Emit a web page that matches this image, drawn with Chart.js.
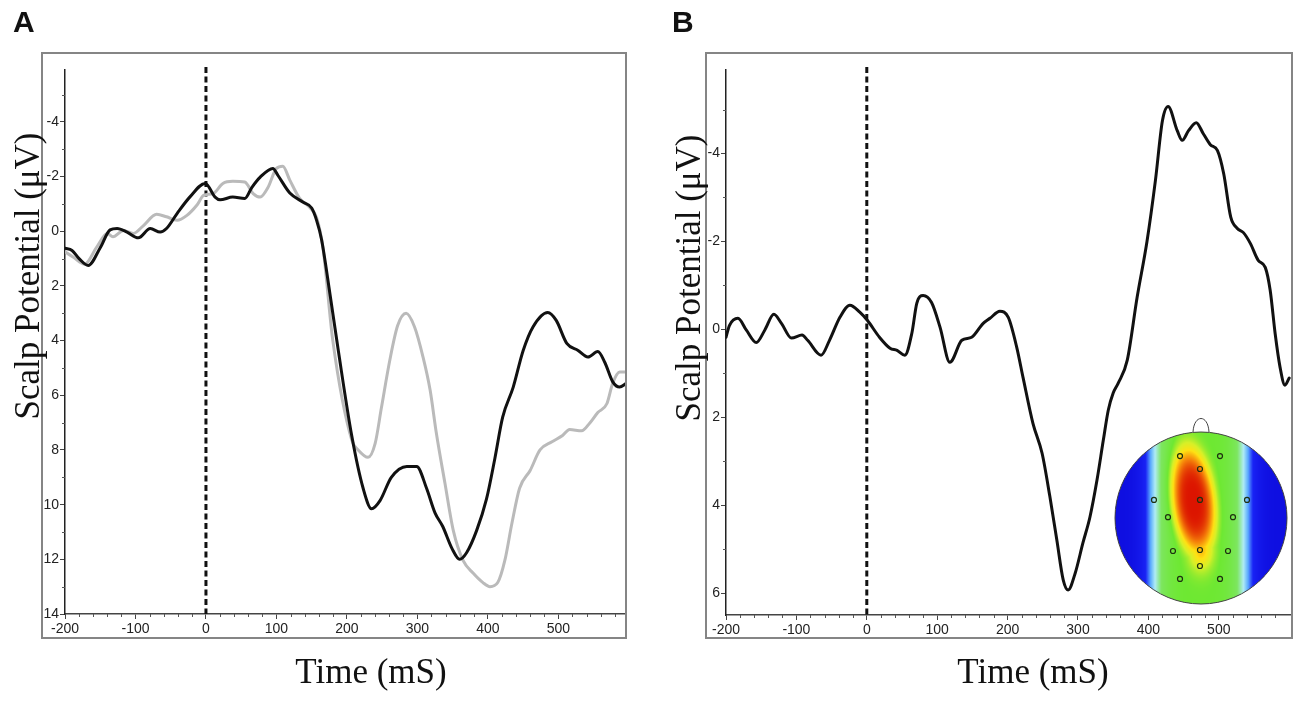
<!DOCTYPE html>
<html lang="en">
<head>
<meta charset="UTF-8">
<title>Scalp Potential</title>
<script src="https://cdn.jsdelivr.net/npm/chart.js"></script>
<style>
  body {
    margin: 0;
    background: #fff;
    width: 1300px;
    height: 704px;
    position: relative;
    overflow: hidden;
    font-family: "Liberation Sans", Arial, sans-serif;
  }
  .panel { position: absolute; top: 0; width: 650px; height: 704px; }
  .letter { position: absolute; top: 7px; font-weight: bold; font-size: 30px; line-height: 30px; color: #111; }
  .xtitle, .ytitle {
    position: absolute;
    font-family: "Liberation Serif", "Times New Roman", serif;
    font-size: 35px;
    line-height: 35px;
    color: #111;
    white-space: nowrap;
  }
  .xtitle { top: 654px; transform: translateX(-50%); }
  .ytitle { transform: translate(-50%, -50%) rotate(-90deg); }
</style>
</head>
<body>
  <div class="panel" style="left:0"><canvas id="chartA"></canvas></div>
  <div class="panel" style="left:650px"><canvas id="chartB"></canvas></div>

  <div class="letter" style="left:13px">A</div>
  <div class="letter" style="left:672px">B</div>
  <div class="ytitle" style="left:27px; top:276px">Scalp Potential (μV)</div>
  <div class="ytitle" style="left:688px; top:278px">Scalp Potential (μV)</div>
  <div class="xtitle" style="left:371px">Time (mS)</div>
  <div class="xtitle" style="left:1033px">Time (mS)</div>

<script>
// tick labels
const timeTicks = [-200, -100, 0, 100, 200, 300, 400, 500];
const uvTicksA = [-4, -2, 0, 2, 4, 6, 8, 10, 12, 14];
const uvTicksB = [-4, -2, 0, 2, 4, 6];

// Panel A: two conditions (black and grey waveforms), time in ms, potential in µV
const aBlackTime = [-200, -190, -180, -167, -150, -136, -126, -112, -96, -79, -65, -56, -41, -23, -1,
  13, 20, 38, 55, 65, 77, 95, 102, 119, 138, 150, 157, 164, 176, 188, 207, 223, 235, 247, 263,
  285, 299, 313, 325, 336, 349, 360, 370, 384, 398, 410, 421, 436, 450, 464, 485, 497, 512,
  528, 542, 556, 566, 577, 587, 596];
const aBlackUv = [0.62, 0.7, 1.0, 1.25, 0.6, -0.05, -0.1, 0.03, 0.24, -0.1, 0.03, -0.1, -0.65, -1.25, -1.75,
  -1.25, -1.15, -1.25, -1.2, -1.6, -1.98, -2.3, -2.05, -1.4, -1.06, -0.85, -0.4, 0.3, 2.3, 4.4, 7.5, 9.4, 10.15, 9.85, 9.0,
  8.6, 8.6, 9.4, 10.3, 10.8, 11.6, 12.0, 11.75, 10.95, 9.8, 8.3, 6.8, 5.7, 4.37, 3.5, 2.97, 3.26, 4.1,
  4.36, 4.6, 4.4, 4.8, 5.5, 5.7, 5.57];

const aGreyTime = [-200, -188, -172, -155, -140, -132, -117, -103, -89, -70, -56, -41, -27, -13, -3,
  10, 24, 38, 55, 67, 77, 88, 100, 109, 119, 133, 147, 157, 166, 180, 207, 216, 230, 240, 249,
  261, 272, 284, 296, 308, 318, 327, 339, 351, 365, 379, 393, 403, 414, 424, 434, 445, 460,
  474, 491, 506, 516, 533, 545, 556, 569, 577, 587, 596];
const aGreyUv = [0.75, 0.95, 1.2, 0.58, 0.08, 0.2, -0.03, 0.08, -0.2, -0.62, -0.53, -0.4, -0.58, -0.95, -1.32,
  -1.38, -1.75, -1.83, -1.8, -1.38, -1.25, -1.6, -2.3, -2.38, -1.87, -1.2, -0.88, -0.5, 0.6, 4.0, 7.65, 8.0, 8.27, 7.77, 6.45,
  4.7, 3.45, 3.0, 3.5, 4.6, 5.8, 7.4, 9.2, 10.95, 12.05, 12.5, 12.85, 13.0, 12.85, 12.05, 10.7, 9.4, 8.75,
  8.0, 7.7, 7.47, 7.25, 7.3, 7.0, 6.63, 6.3, 5.57, 5.15, 5.15];

// Panel B: difference waveform
const bTime = [-200, -195, -183, -171, -157, -145, -132, -121, -107, -92, -84, -65, -53, -38, -24, -10, 1,
  18, 33, 43, 54, 64, 71, 80, 92, 104, 118, 135, 149, 165, 175, 189, 201, 213, 222, 236, 249,
  260, 270, 279, 286, 296, 307, 317, 327, 336, 343, 350, 357, 370, 384, 398, 410, 420, 428,
  441, 448, 457, 468, 478, 488, 498, 507, 517, 526, 535, 545, 556, 566, 573, 580, 587, 594, 600];
const bUv = [0.18, -0.09, -0.25, 0.02, 0.3, 0.02, -0.34, -0.13, 0.2, 0.13, 0.25, 0.59, 0.25, -0.28, -0.55, -0.39, -0.2,
  0.18, 0.43, 0.48, 0.59, 0.09, -0.59, -0.77, -0.61, -0.05, 0.75, 0.25, 0.18, -0.13, -0.25, -0.41, -0.27, 0.41, 1.1, 2.14, 2.82,
  3.8, 4.8, 5.7, 5.93, 5.55, 4.86, 4.27, 3.43, 2.52, 1.84, 1.45, 1.23, 0.7, -0.73, -2.0, -3.39, -4.75, -5.07,
  -4.52, -4.3, -4.52, -4.7, -4.45, -4.2, -4.07, -3.54, -2.55, -2.3, -2.2, -1.95, -1.57, -1.41, -0.89, 0.09, 0.86, 1.27, 1.11];

const toPoints = (xs, ys) => xs.map((x, i) => ({ x: x, y: ys[i] }));

// grey box around each panel
const framePlugin = {
  id: 'frame',
  afterDraw(chart, args, opts) {
    const ctx = chart.ctx;
    ctx.save();
    ctx.strokeStyle = '#858585';
    ctx.lineWidth = 2;
    ctx.strokeRect(opts.left, opts.top, opts.right - opts.left, opts.bottom - opts.top);
    ctx.restore();
  }
};

// dashed stimulus-onset line at t = 0
const onsetPlugin = {
  id: 'onset',
  beforeDatasetsDraw(chart) {
    const { ctx, chartArea, scales } = chart;
    const px = scales.x.getPixelForValue(0);
    ctx.save();
    ctx.strokeStyle = '#111';
    ctx.lineWidth = 3;
    ctx.setLineDash([6, 3.5]);
    ctx.beginPath();
    ctx.moveTo(px, chartArea.top - 3);
    ctx.lineTo(px, chartArea.bottom);
    ctx.stroke();
    ctx.restore();
  }
};

// short unlabelled ticks between the major ones
const minorTicksPlugin = {
  id: 'minorTicks',
  afterDraw(chart) {
    const { ctx, scales: { x, y } } = chart;
    ctx.save();
    ctx.strokeStyle = '#555';
    ctx.lineWidth = 1;
    ctx.beginPath();
    for (let v = Math.ceil(x.min / 20) * 20; v <= x.max; v += 20) {
      if (v % 100 === 0) continue;
      const px = Math.round(x.getPixelForValue(v)) + 0.5;
      ctx.moveTo(px, x.top);
      ctx.lineTo(px, x.top + 3);
    }
    for (let v = Math.ceil(y.min); v <= y.max; v += 1) {
      if (Math.abs(v % 2) !== 1) continue;
      const py = Math.round(y.getPixelForValue(v)) + 0.5;
      ctx.moveTo(y.right, py);
      ctx.lineTo(y.right - 3, py);
    }
    ctx.stroke();
    ctx.restore();
  }
};

// scalp map inset for panel B
const topoStops = [
  [0.00, [15, 15, 225]],
  [0.13, [25, 35, 245]],
  [0.20, [90, 170, 255]],
  [0.27, [175, 236, 245]],
  [0.36, [125, 230, 95]],
  [0.50, [110, 232, 50]],
  [0.62, [215, 240, 40]],
  [0.72, [255, 225, 20]],
  [0.85, [245, 130, 10]],
  [1.00, [220, 20, 0]]
];
const electrodeLayout = [
  [-0.244, -0.72], [0.221, -0.72], [-0.012, -0.57],
  [-0.547, -0.21], [-0.012, -0.21], [0.535, -0.21],
  [-0.384, -0.01], [0.372, -0.01],
  [-0.326, 0.384], [-0.012, 0.372], [0.314, 0.384],
  [-0.012, 0.558], [-0.244, 0.709], [0.221, 0.709]
];

function topoColour(s) {
  s = Math.max(0, Math.min(1, s));
  for (let i = 1; i < topoStops.length; i++) {
    if (s <= topoStops[i][0]) {
      const [s0, c0] = topoStops[i - 1];
      const [s1, c1] = topoStops[i];
      const f = (s - s0) / (s1 - s0);
      return c0.map((c, k) => c + (c1[k] - c) * f);
    }
  }
  return topoStops[topoStops.length - 1][1];
}

function topoField(u, v) {
  const band = Math.exp(-Math.pow(Math.abs(u + 0.02) / 0.58, 4));
  const cu = -0.09 + 0.1 * (v + 0.2);
  const q = Math.pow((u - cu) / 0.25, 2) + Math.pow((v + 0.2) / 0.62, 2);
  const core = Math.exp(-q * q);
  const tail = 0.55 * Math.exp(-Math.pow(u / 0.14, 2) - Math.pow((v - 0.36) / 0.24, 2));
  return 0.5 * band + 0.5 * Math.max(core, tail);
}

function buildTopo(size) {
  const c = document.createElement('canvas');
  c.width = c.height = size;
  const g = c.getContext('2d');
  const img = g.createImageData(size, size);
  for (let j = 0; j < size; j++) {
    for (let i = 0; i < size; i++) {
      const u = (i + 0.5) / size * 2 - 1;
      const v = (j + 0.5) / size * 2 - 1;
      if (u * u + v * v > 1) continue;
      const rgb = topoColour(topoField(u, v));
      const k = (j * size + i) * 4;
      img.data[k] = rgb[0];
      img.data[k + 1] = rgb[1];
      img.data[k + 2] = rgb[2];
      img.data[k + 3] = 255;
    }
  }
  g.putImageData(img, 0, 0);
  return c;
}

const topoImage = buildTopo(344);

const topoPlugin = {
  id: 'topo',
  afterDatasetsDraw(chart) {
    const { ctx, chartArea } = chart;
    const r = 86;
    const cx = chartArea.right - 91;
    const cy = chartArea.bottom - 97;
    ctx.save();
    ctx.drawImage(topoImage, cx - r, cy - r, 2 * r, 2 * r);
    ctx.strokeStyle = '#444';
    ctx.lineWidth = 1;
    ctx.beginPath();
    ctx.arc(cx, cy, r, 0, Math.PI * 2);
    ctx.stroke();
    // nose
    ctx.beginPath();
    ctx.moveTo(cx - 8, cy - r);
    ctx.bezierCurveTo(cx - 7, cy - r - 18, cx + 7, cy - r - 18, cx + 8, cy - r);
    ctx.stroke();
    // electrodes
    ctx.strokeStyle = '#1e3010';
    ctx.lineWidth = 1.2;
    electrodeLayout.forEach(([u, v]) => {
      ctx.beginPath();
      ctx.arc(cx + u * r, cy + v * r, 2.5, 0, Math.PI * 2);
      ctx.stroke();
    });
    ctx.restore();
  }
};

const fixedTicks = (values) => (scale) => {
  scale.ticks = values.map((v) => ({ value: v }));
};

function makeChart(id, datasets, cfg) {
  return new Chart(document.getElementById(id), {
    type: 'line',
    data: { datasets: datasets },
    options: {
      responsive: true,
      maintainAspectRatio: false,
      animation: false,
      parsing: false,
      layout: { padding: cfg.padding },
      plugins: {
        legend: { display: false },
        tooltip: { enabled: false },
        frame: cfg.frame
      },
      elements: {
        point: { radius: 0 },
        line: { borderWidth: 3, cubicInterpolationMode: 'monotone', borderCapStyle: 'round', borderJoinStyle: 'round' }
      },
      scales: {
        x: {
          type: 'linear',
          min: -200,
          max: cfg.xMax,
          afterBuildTicks: fixedTicks(timeTicks),
          afterFit: (s) => { s.height = 30; },
          grid: { drawOnChartArea: false, drawTicks: true, tickLength: 5, tickColor: '#444', tickWidth: 1 },
          border: { display: true, color: '#444', width: 1.5 },
          ticks: {
            autoSkip: false,
            maxRotation: 0,
            padding: 2,
            color: '#222',
            font: { family: '"Liberation Sans", Arial, sans-serif', size: 14 }
          }
        },
        y: {
          type: 'linear',
          reverse: true,
          min: cfg.yMin,
          max: cfg.yMax,
          afterBuildTicks: fixedTicks(cfg.yTicks),
          afterFit: (s) => { s.width = 40; },
          grid: { drawOnChartArea: false, drawTicks: true, tickLength: 5, tickColor: '#444', tickWidth: 1 },
          border: { display: true, color: '#222', width: 1.5 },
          ticks: {
            autoSkip: false,
            padding: 1,
            color: '#222',
            font: { family: '"Liberation Sans", Arial, sans-serif', size: 14 }
          }
        }
      }
    },
    plugins: [framePlugin, onsetPlugin, minorTicksPlugin].concat(cfg.extra || [])
  });
}

makeChart('chartA', [
  { label: 'Condition 1', data: toPoints(aBlackTime, aBlackUv), borderColor: '#111', order: 0 },
  { label: 'Condition 2', data: toPoints(aGreyTime, aGreyUv), borderColor: '#bababa', order: 1 }
], {
  yMin: -5.9, yMax: 14, xMax: 596, yTicks: uvTicksA,
  padding: { left: 25, right: 24, top: 70, bottom: 60 },
  frame: { left: 42, top: 53, right: 626, bottom: 638 }
});

makeChart('chartB', [
  { label: 'Difference', data: toPoints(bTime, bUv), borderColor: '#111' }
], {
  yMin: -5.9, yMax: 6.5, xMax: 604, yTicks: uvTicksB,
  padding: { left: 36, right: 8, top: 70, bottom: 59 },
  frame: { left: 56, top: 53, right: 642, bottom: 638 },
  extra: [topoPlugin]
});
</script>
</body>
</html>
